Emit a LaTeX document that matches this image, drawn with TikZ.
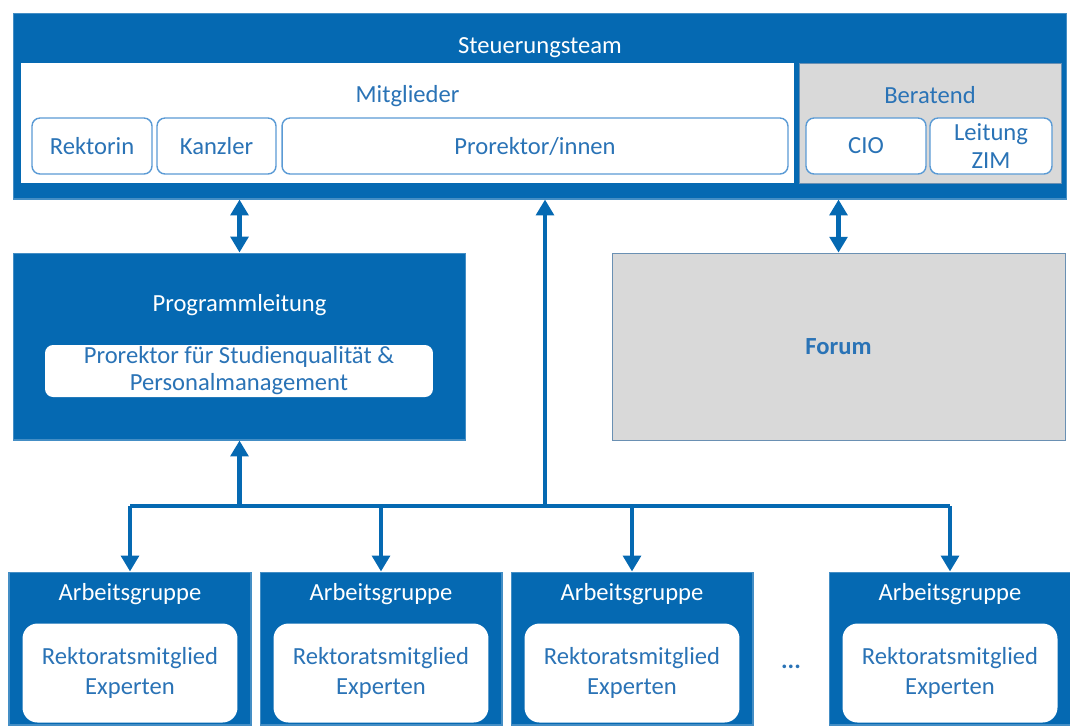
\documentclass[tikz,border=0pt]{standalone}
\usepackage{fontspec}
\setmainfont{Carlito}
\usetikzlibrary{arrows.meta}
\definecolor{uniblue}{HTML}{0569B2}
\definecolor{textblue}{HTML}{2A73B6}
\definecolor{lineblue}{HTML}{5B9BD5}
\definecolor{boxgray}{HTML}{D9D9D9}
\tikzset{
  bluebox/.style={fill=uniblue, draw=uniblue!75!white, line width=0.6pt, inner sep=0pt},
  whitebox/.style={fill=white, inner sep=0pt},
  graybox/.style={fill=boxgray, draw=lineblue!60!gray, line width=0.5pt, inner sep=0pt},
  member/.style={draw=lineblue, fill=white, rounded corners=0.16cm, line width=0.8pt,
    text=textblue, align=center, inner sep=0pt, minimum height=1.12cm},
  agbox/.style={bluebox, minimum width=4.84cm, minimum height=3.06cm},
  agin/.style={fill=white, rounded corners=0.3cm, inner sep=0pt, text=textblue, align=center,
    minimum width=4.3cm, minimum height=1.98cm, font=\fontsize{14}{17}\selectfont},
  wtext/.style={text=white},
  btext/.style={text=textblue},
  conn/.style={draw=uniblue, line width=2.7pt, >={Triangle[width=10pt,length=9pt]}},
}

\begin{document}
\begin{tikzpicture}[x=0.02cm, y=-0.02cm, font=\fontsize{14}{16}\selectfont]

    \useasboundingbox (0,0) rectangle (1070,725);

    % Steuerungsteam
    \node[bluebox, minimum width=21.08cm, minimum height=3.72cm] (st) at (540,106) {};
    \node[wtext] (stt) at (540,48) {Steuerungsteam};
    \node[whitebox, minimum width=15.46cm, minimum height=2.4cm] (mg) at (407.5,123) {};
    \node[btext] (mgt) at (407.5,96) {Mitglieder};
    \node[graybox, minimum width=5.24cm, minimum height=2.4cm] (br) at (930,123) {};
    \node[btext] (brt) at (930,95) {Beratend};

    \node[member, minimum width=2.4cm] (rek) at (92,146) {Rektorin};
    \node[member, minimum width=2.38cm] (kan) at (216.5,146) {Kanzler};
    \node[member, minimum width=10.12cm] (pro) at (535,146) {Prorektor/innen};
    \node[member, minimum width=2.4cm] (cio) at (866,146) {CIO};
    \node[member, minimum width=2.44cm] (zim) at (991,146) {Leitung\\ZIM};

    % Programmleitung und Forum
    \node[bluebox, minimum width=9.06cm, minimum height=3.74cm] (pl) at (239.5,346.5) {};
    \node[wtext] (plt) at (239.5,305) {Programmleitung};
    \node[member, draw=none, minimum width=7.76cm, minimum height=1.04cm,
      font=\fontsize{14}{15.4}\selectfont] (plm) at (239,371)
      {Prorektor für Studienqualität \&\\Personalmanagement};
    \node[graybox, minimum width=9.06cm, minimum height=3.74cm, text=textblue,
      font=\fontsize{14}{16}\selectfont\bfseries] (fo) at (838.5,346.5) {Forum};

    % Arbeitsgruppen
    \foreach \i/\x in {1/130, 2/381, 3/632, 4/950} {
      \node[agbox] (ag\i) at (\x,648.5) {};
      \node[wtext] (agt\i) at (\x,594) {Arbeitsgruppe};
      \node[agin] (agm\i) at (\x,673) {Rektoratsmitglied\\Experten};
    }
    \node[btext, font=\fontsize{14}{16}\selectfont\bfseries] (dots) at (791,667) {...};

    % Verbindungen
    \coordinate (bus) at (545,506);
    \draw[conn, <->] (st.south -| pl.north) -- (pl.north);
    \draw[conn, <->] (st.south -| fo.north) -- (fo.north);
    \draw[conn] (bus -| ag1.north) -- (bus -| ag4.north);
    \draw[conn, ->] (bus) -- (bus |- st.south);
    \draw[conn, ->] (bus -| pl.south) -- (pl.south);
    \foreach \i in {1,...,4}
      \draw[conn, ->] (bus -| ag\i.north) -- (ag\i.north);

\end{tikzpicture}
\end{document}
